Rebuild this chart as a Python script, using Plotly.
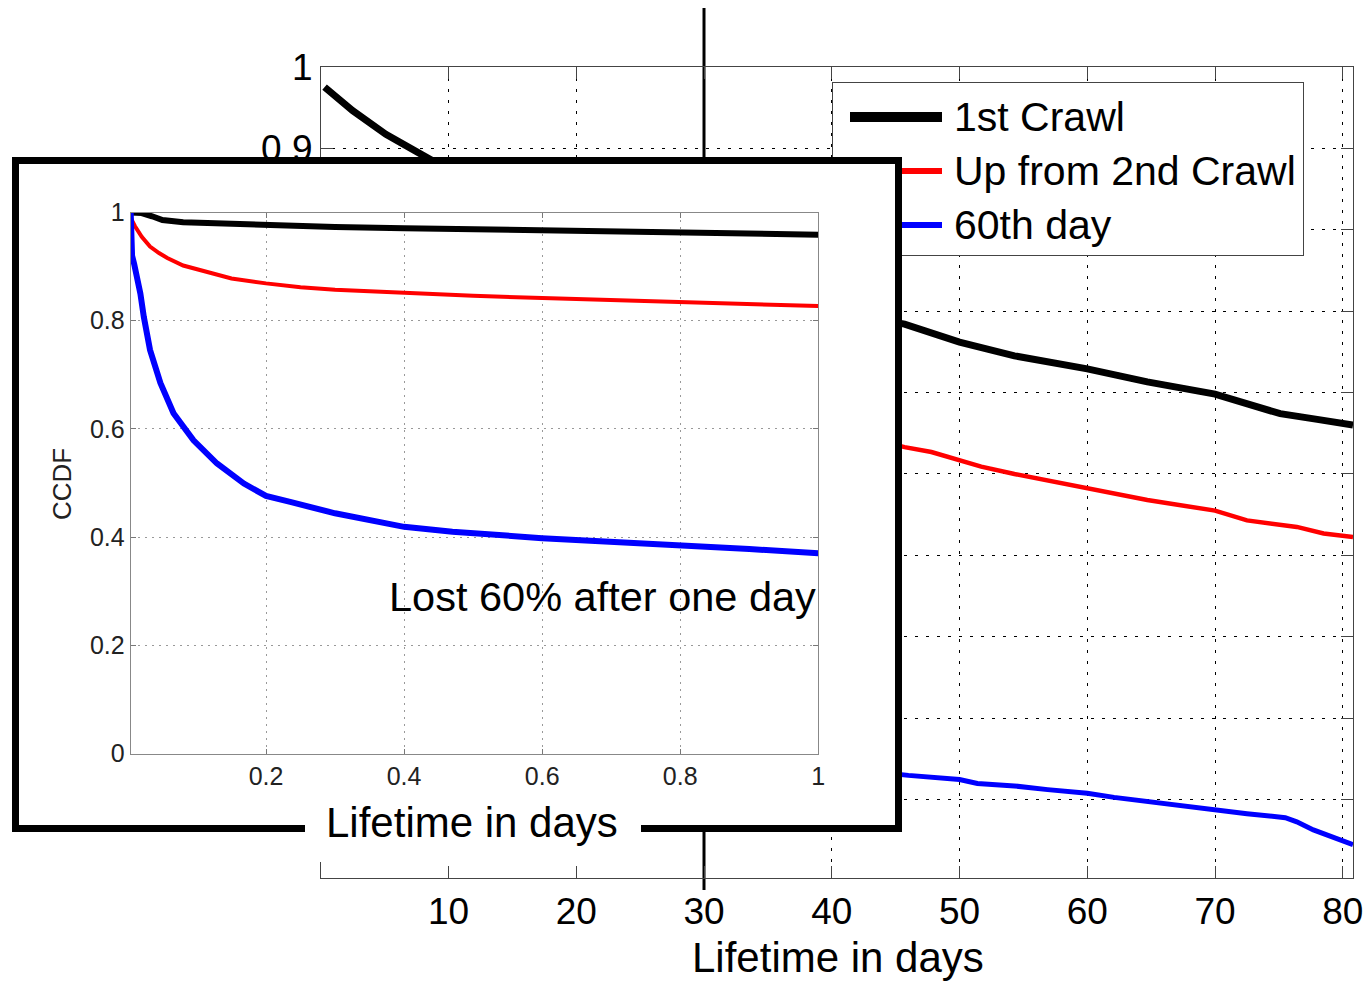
import plotly.graph_objects as go

W, H = 1366, 983
FONT = "Liberation Sans, Arial, sans-serif"


def fx(p):
    return p / W


def fy(p):
    return 1 - p / H


# ---------------- data ----------------
# main chart: lifetime in days vs CCDF
main_days_crawl1 = [0.3, 2.5, 5.1, 7.7, 8.7, 12, 16, 20, 25, 30, 35, 40, 45.7, 50, 54.3, 60, 64.7, 70, 75.1, 78, 80.8]
main_ccdf_crawl1 = [0.975, 0.946, 0.917, 0.893, 0.885, 0.86, 0.83, 0.80, 0.77, 0.745, 0.72, 0.70, 0.684, 0.662, 0.645,
                    0.629, 0.613, 0.598, 0.574, 0.567, 0.56]

main_days_crawl2 = [0.3, 1, 3, 6, 10, 15, 20, 25, 30, 35, 40, 45.7, 47.8, 50, 51.7, 54.3, 60, 64.7, 70, 72.5, 76.4,
                    78.5, 80.8]
main_ccdf_crawl2 = [0.857, 0.827, 0.79, 0.755, 0.72, 0.68, 0.65, 0.62, 0.595, 0.575, 0.555, 0.533, 0.527, 0.517, 0.509,
                    0.50, 0.483, 0.468, 0.455, 0.443, 0.435, 0.427, 0.4225]

main_days_day60 = [0.3, 1, 2, 5, 10, 20, 30, 40, 46, 47.8, 50, 51.4, 54.3, 56.9, 60, 62.1, 65.5, 68.1, 70, 72.5, 75.5,
                   76.4, 77.7, 79.3, 80.8]
main_ccdf_day60 = [0.444, 0.37, 0.34, 0.29, 0.24, 0.19, 0.16, 0.14, 0.130, 0.128, 0.125, 0.12, 0.117, 0.1125, 0.108,
                   0.103, 0.096, 0.092, 0.088, 0.083, 0.078, 0.073, 0.063, 0.054, 0.045]

# inset: first day
inset_days_crawl1 = [0.004, 0.02, 0.035, 0.05, 0.08, 0.12, 0.2, 0.3, 0.4, 0.5, 0.6, 0.7, 0.8, 0.9, 1.0]
inset_ccdf_crawl1 = [1.0, 0.999, 0.993, 0.986, 0.982, 0.980, 0.976, 0.973, 0.971, 0.969, 0.967, 0.965, 0.963, 0.961,
                     0.959]

inset_days_crawl2 = [0.004, 0.01, 0.02, 0.032, 0.045, 0.057, 0.08, 0.105, 0.15, 0.2, 0.25, 0.3, 0.4, 0.5, 0.6, 0.7,
                     0.8, 0.9, 1.0]
inset_ccdf_crawl2 = [0.99, 0.975, 0.955, 0.937, 0.925, 0.916, 0.902, 0.893, 0.878, 0.869, 0.862, 0.857, 0.851, 0.846,
                     0.842, 0.838, 0.835, 0.831, 0.827]

inset_days_day60 = [0.004, 0.006, 0.009, 0.013, 0.018, 0.023, 0.032, 0.047, 0.066, 0.095, 0.129, 0.168, 0.2, 0.235,
                    0.3, 0.4, 0.47, 0.6, 0.7, 0.8, 0.9, 1.0]
inset_ccdf_day60 = [1.0, 0.92, 0.905, 0.885, 0.85, 0.807, 0.746, 0.685, 0.629, 0.579, 0.536, 0.499, 0.476, 0.465,
                    0.444, 0.419, 0.41, 0.398, 0.392, 0.385, 0.378, 0.370]

series_names = ["1st Crawl", "Up from 2nd Crawl", "60th day"]
series_colors = ["#000000", "#ff0000", "#0000ff"]

main_x_ticks = [10, 20, 30, 40, 50, 60, 70, 80]
main_y_ticks = [0.1, 0.2, 0.3, 0.4, 0.5, 0.6, 0.7, 0.8, 0.9, 1.0]
# labels 0.1-0.8 lie entirely behind the inset in the original
main_y_ticktext = ["", "", "", "", "", "", "", "", "0.9", "1"]
inset_x_ticks = [0.2, 0.4, 0.6, 0.8, 1.0]
inset_x_ticktext = ["0.2", "0.4", "0.6", "0.8", "1"]
inset_y_ticks = [0, 0.2, 0.4, 0.6, 0.8, 1.0]
inset_y_ticktext = ["0", "0.2", "0.4", "0.6", "0.8", "1"]
marker_day = 30

# ---------------- layout constants (positions / styles) ----------------
PANEL_X = [0, 1, 1, 0, 0]          # unit square filling a helper subplot
PANEL_Y = [0, 0, 1, 1, 0]
LEG_SAMPLE_X = [(850 - 833) / 470, (942 - 833) / 470]
LEG_ROWS_PX = [117, 171, 225]
LEG_SAMPLE_W = [10, 6, 6]
MAIN_W = [7, 4.5, 5]
INSET_W = [6, 4, 6]

fig = go.Figure()

# 1) main chart traces (subplot xy)
for name, xs, ys, c, w in zip(series_names,
                              [main_days_crawl1, main_days_crawl2, main_days_day60],
                              [main_ccdf_crawl1, main_ccdf_crawl2, main_ccdf_day60],
                              series_colors, MAIN_W):
    fig.add_trace(go.Scatter(x=xs, y=ys, mode="lines", name=name, showlegend=False,
                             line=dict(color=c, width=w), xaxis="x", yaxis="y", hoverinfo="skip"))

# 2) legend box (subplot x2y2): white panel + line samples
fig.add_trace(go.Scatter(x=PANEL_X, y=PANEL_Y, mode="none", fill="toself", fillcolor="white",
                         showlegend=False, hoverinfo="skip", xaxis="x2", yaxis="y2"))
for yr, c, w in zip(LEG_ROWS_PX, series_colors, LEG_SAMPLE_W):
    yv = (255 - yr) / (255 - 83)
    fig.add_trace(go.Scatter(x=LEG_SAMPLE_X, y=[yv, yv], mode="lines", showlegend=False,
                             line=dict(color=c, width=w), hoverinfo="skip", xaxis="x2", yaxis="y2"))

# 3) inset white frame (subplot x3y3)
fig.add_trace(go.Scatter(x=PANEL_X, y=PANEL_Y, mode="none", fill="toself", fillcolor="white",
                         showlegend=False, hoverinfo="skip", xaxis="x3", yaxis="y3"))

# 4) inset traces (subplot x4y4)
for name, xs, ys, c, w in zip(series_names,
                              [inset_days_crawl1, inset_days_crawl2, inset_days_day60],
                              [inset_ccdf_crawl1, inset_ccdf_crawl2, inset_ccdf_day60],
                              series_colors, INSET_W):
    fig.add_trace(go.Scatter(x=xs, y=ys, mode="lines", name=name, showlegend=False,
                             line=dict(color=c, width=w), xaxis="x4", yaxis="y4", hoverinfo="skip"))

hidden_axis = dict(showgrid=False, showline=False, zeroline=False, ticks="", showticklabels=False,
                   range=[0, 1], fixedrange=True, automargin=False)

fig.update_layout(
    template="none",
    width=W, height=H, autosize=False,
    margin=dict(l=0, r=0, t=0, b=0, pad=0),
    paper_bgcolor="white", plot_bgcolor="white",
    font=dict(family=FONT, color="#000"),
    showlegend=False,
    xaxis=dict(domain=[fx(321), fx(1353)], range=[0.02, 80.8], anchor="y", automargin=False,
               tickvals=main_x_ticks, ticks="inside", ticklen=12, tickcolor="#444",
               mirror="allticks", showline=True, linecolor="#444", linewidth=1.2,
               showgrid=True, gridcolor="#000", gridwidth=1, griddash="3px,8px",
               zeroline=False, tickfont=dict(size=37, color="#000", family=FONT)),
    yaxis=dict(domain=[fy(878), fy(66.7)], range=[0.004, 1.0], anchor="x", automargin=False,
               tickvals=main_y_ticks, ticktext=main_y_ticktext, ticks="inside", ticklen=12,
               tickcolor="#444", mirror="allticks", showline=True, linecolor="#444", linewidth=1.2,
               showgrid=True, gridcolor="#000", gridwidth=1, griddash="3px,8px",
               zeroline=False, tickfont=dict(size=37, color="#000", family=FONT)),
    xaxis2=dict(domain=[fx(833), fx(1303)], anchor="y2", showline=True, mirror=True, linecolor="#444",
                linewidth=1, showgrid=False, zeroline=False, ticks="", showticklabels=False,
                range=[0, 1], fixedrange=True, automargin=False),
    yaxis2=dict(domain=[fy(255), fy(83)], anchor="x2", showline=True, mirror=True, linecolor="#444",
                linewidth=1, showgrid=False, zeroline=False, ticks="", showticklabels=False,
                range=[0, 1], fixedrange=True, automargin=False),
    xaxis3=dict(domain=[fx(12), fx(902)], anchor="y3", **hidden_axis),
    yaxis3=dict(domain=[fy(832), fy(157)], anchor="x3", **hidden_axis),
    xaxis4=dict(domain=[fx(130.7), fx(818.3)], range=[0.004, 1.0], anchor="y4", automargin=False,
                tickvals=inset_x_ticks, ticktext=inset_x_ticktext, ticks="inside", ticklen=5,
                tickcolor="#777", mirror="allticks", showline=True, linecolor="#888", linewidth=1,
                showgrid=True, gridcolor="#999", gridwidth=1, griddash="2px,5px",
                zeroline=False, tickfont=dict(size=25, color="#222", family=FONT)),
    yaxis4=dict(domain=[fy(753.5), fy(212.5)], range=[0, 1.0], anchor="x4", automargin=False,
                tickvals=inset_y_ticks, ticktext=inset_y_ticktext, ticks="inside", ticklen=5,
                tickcolor="#777", mirror="allticks", showline=True, linecolor="#888", linewidth=1,
                showgrid=True, gridcolor="#999", gridwidth=1, griddash="2px,5px",
                zeroline=False, tickfont=dict(size=25, color="#222", family=FONT)),
)

shapes = []
# vertical marker line at day 30 (behind the inset)
shapes.append(dict(type="line", xref="x", yref="paper", x0=marker_day, x1=marker_day,
                   y0=fy(890), y1=fy(8), line=dict(color="#000", width=3), layer="below"))
# white patch behind the inset x-title
shapes.append(dict(type="rect", xref="paper", yref="paper", x0=fx(305), x1=fx(641), y0=fy(862), y1=fy(805),
                   fillcolor="white", line=dict(width=0), layer="above"))
# inset border with a gap for its x-title
path = (f"M {fx(305)} {fy(828.5)} L {fx(15.5)} {fy(828.5)} L {fx(15.5)} {fy(160.5)} "
        f"L {fx(898.5)} {fy(160.5)} L {fx(898.5)} {fy(828.5)} L {fx(641)} {fy(828.5)}")
shapes.append(dict(type="path", xref="paper", yref="paper", path=path,
                   line=dict(color="#000", width=7), layer="above"))
fig.update_layout(shapes=shapes)

annotations = []
annotations.append(dict(text="Lifetime in days", x=fx(838), y=fy(957), xref="paper", yref="paper",
                        showarrow=False, xanchor="center", yanchor="middle",
                        font=dict(size=42, family=FONT, color="#000")))
for yr, name in zip(LEG_ROWS_PX, series_names):
    annotations.append(dict(text=name, x=fx(952), y=fy(yr), xref="paper", yref="paper",
                            showarrow=False, xanchor="left", yanchor="middle",
                            font=dict(size=41, family=FONT, color="#000")))
annotations.append(dict(text="CCDF", x=fx(62), y=fy(484), xref="paper", yref="paper", textangle=-90,
                        showarrow=False, xanchor="center", yanchor="middle",
                        font=dict(size=26, family=FONT, color="#222")))
annotations.append(dict(text="Lost 60% after one day", x=fx(602), y=fy(596), xref="paper", yref="paper",
                        showarrow=False, xanchor="center", yanchor="middle",
                        font=dict(size=41.5, family=FONT, color="#000")))
annotations.append(dict(text="Lifetime in days", x=fx(472), y=fy(822), xref="paper", yref="paper",
                        showarrow=False, xanchor="center", yanchor="middle",
                        font=dict(size=42, family=FONT, color="#000")))
fig.update_layout(annotations=annotations)

fig.write_html("out.html")
